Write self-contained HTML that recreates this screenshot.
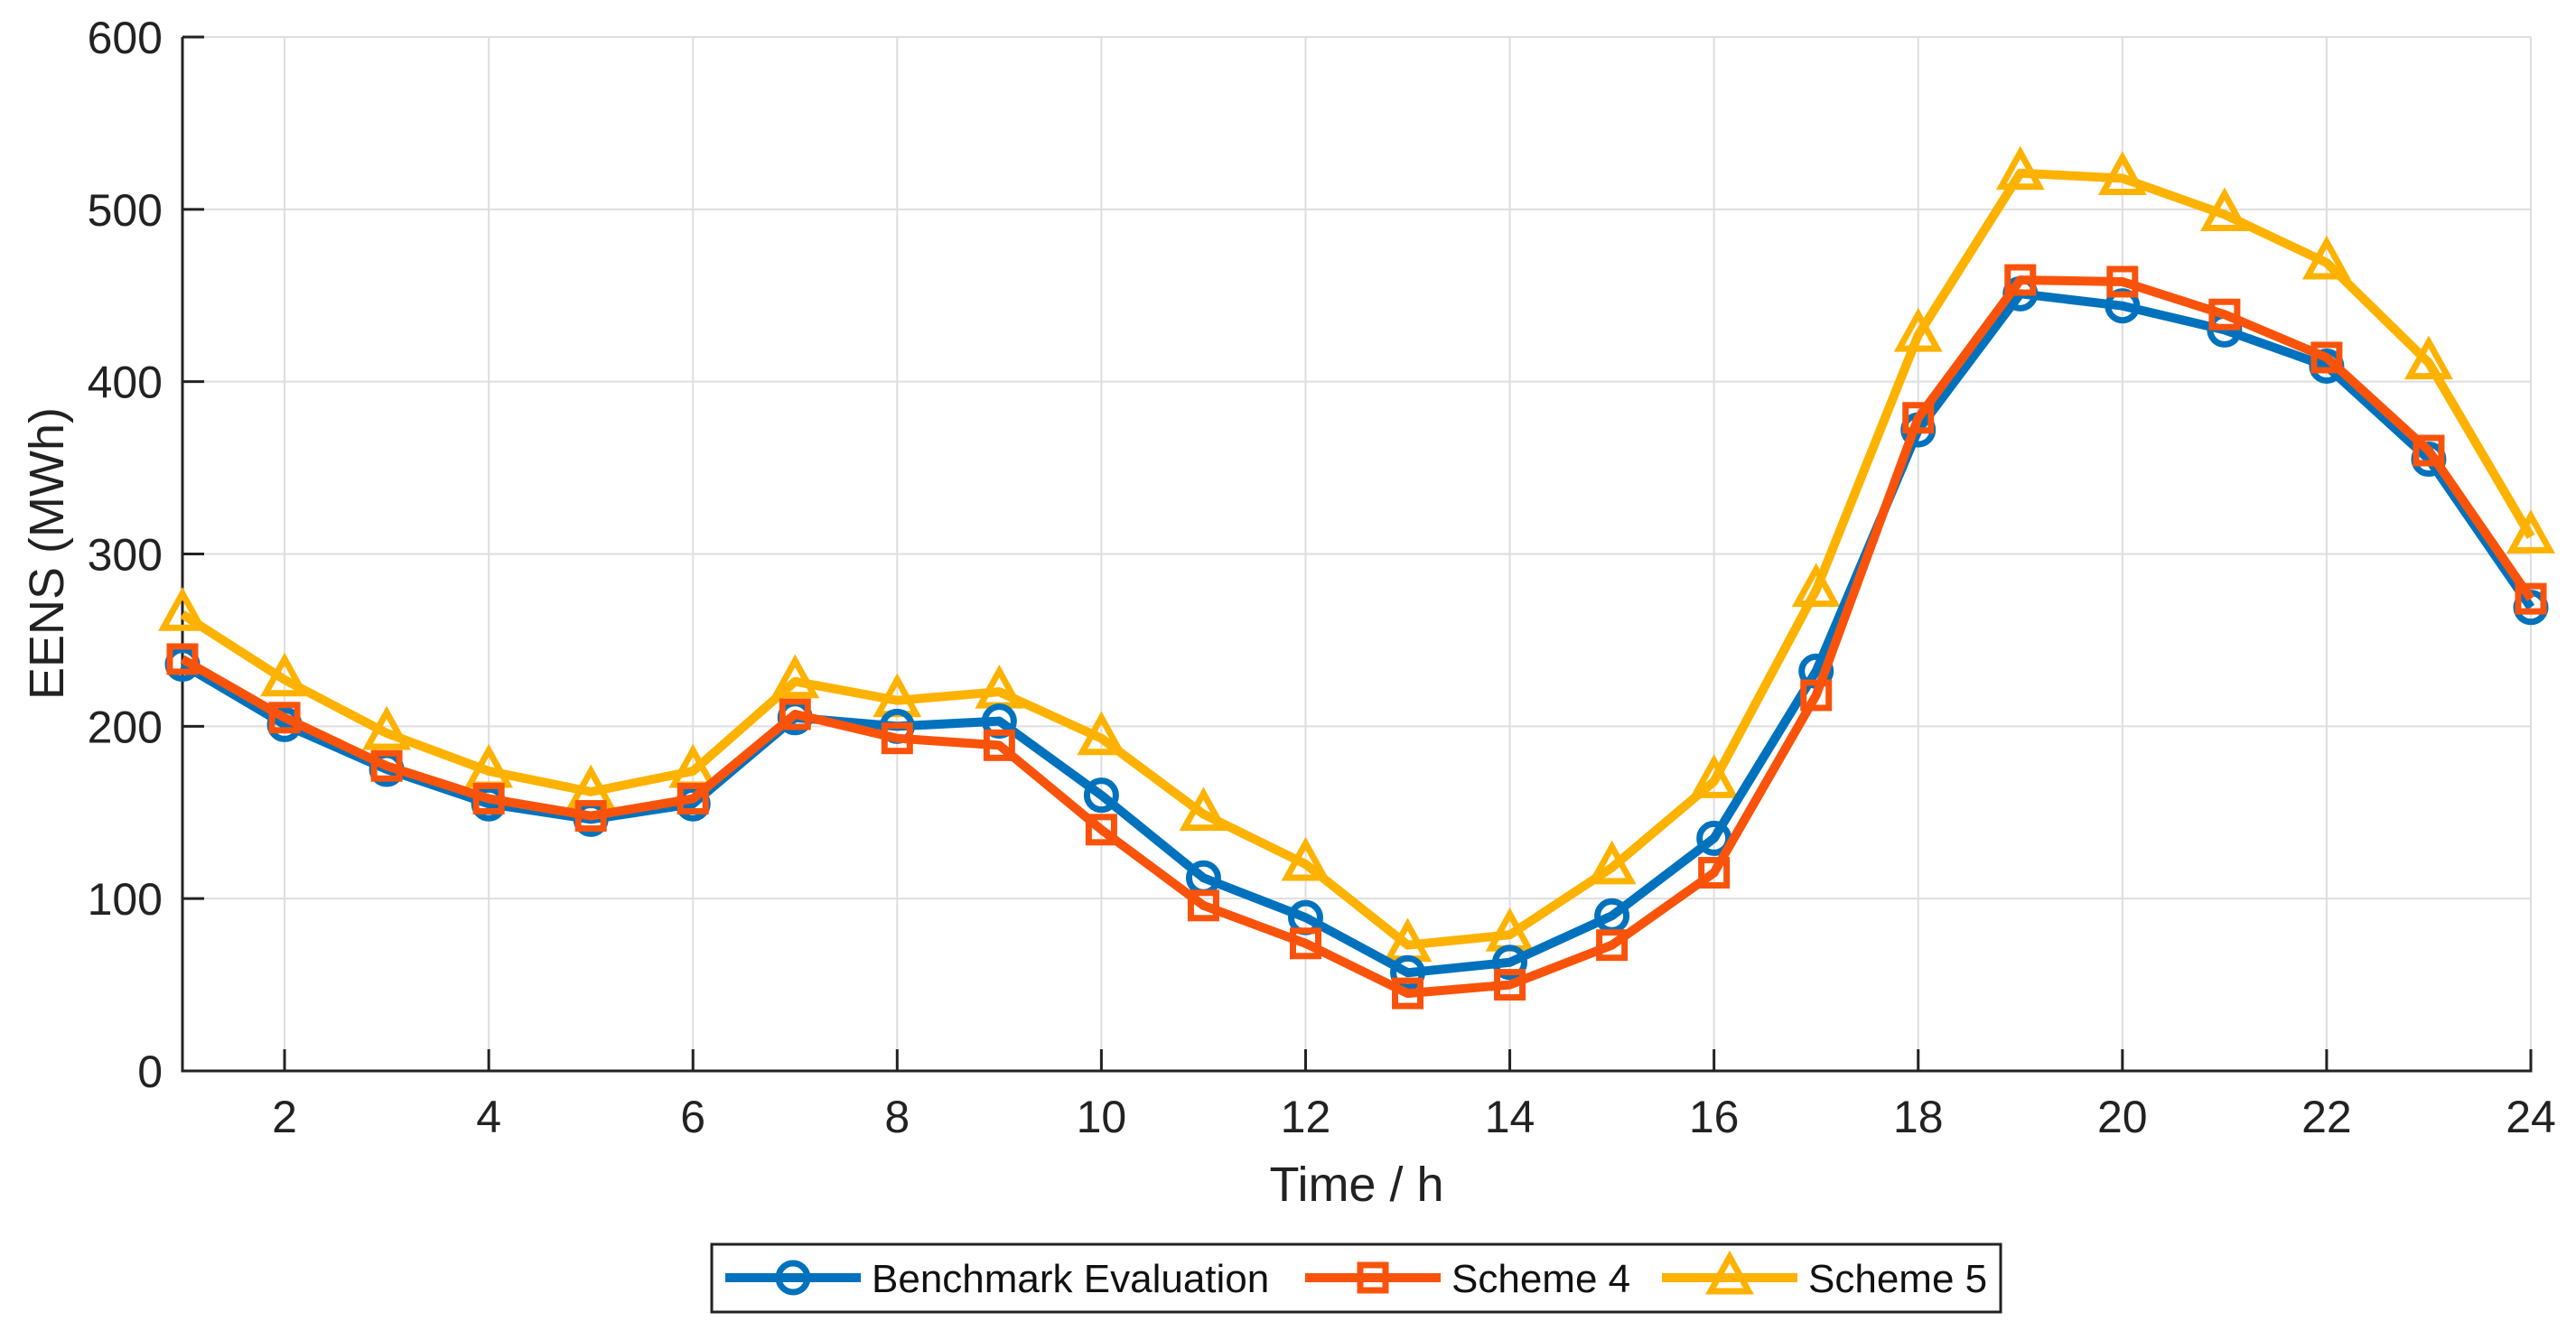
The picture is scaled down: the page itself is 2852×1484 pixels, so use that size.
<!DOCTYPE html>
<html><head><meta charset="utf-8"><style>
html,body{margin:0;padding:0;background:#fff;}
svg{display:block;font-family:"Liberation Sans",Arial,sans-serif;}
</style></head><body>
<svg id="chart" width="2852" height="1484" xmlns="http://www.w3.org/2000/svg">
<g id="grid"></g>
<g id="axes"></g>
<g id="series"></g>
<text x="1502" y="1330" font-size="54" text-anchor="middle" fill="#222">Time / h</text>
<text transform="translate(70,613) rotate(-90)" font-size="54" text-anchor="middle" fill="#222">EENS (MWh)</text>
<g>
<rect x="788" y="1378" width="1427" height="75" fill="#fff" stroke="#222" stroke-width="3"/>
<g>
<line x1="803" y1="1415" x2="953" y2="1415" stroke="#0072BD" stroke-width="10"/>
<circle cx="878" cy="1415" r="16" fill="none" stroke="#0072BD" stroke-width="7"/>
<text x="965" y="1431" font-size="44" fill="#111">Benchmark Evaluation</text></g>
<g>
<line x1="1445" y1="1415" x2="1595" y2="1415" stroke="#F9530B" stroke-width="10"/>
<rect x="1506" y="1401" width="28" height="28" fill="none" stroke="#F9530B" stroke-width="7"/>
<text x="1607" y="1431" font-size="44" fill="#111">Scheme 4</text></g>
<g>
<line x1="1840" y1="1415" x2="1990" y2="1415" stroke="#FDB200" stroke-width="10"/>
<polygon points="1915,1392 1936,1430 1894,1430" fill="none" stroke="#FDB200" stroke-width="7"/>
<text x="2002" y="1431" font-size="44" fill="#111">Scheme 5</text></g>
</g>
</svg>
<script>
const hours=[1,2,3,4,5,6,7,8,9,10,11,12,13,14,15,16,17,18,19,20,21,22,23,24];
const benchmark=[236,201,175,155,146,155,205,200,203,160,112,89,57,63,90,135,232,372,451,444,430,409,355,269];
const scheme4=[239,205,177,158,148,158,207,193,189,140,96,74,45,50,73,115,218,379,459,458,439,414,360,274];
const scheme5=[265,227,196,174,162,174,226,215,220,193,149,120,73,79,118,168,279,427,521,518,497,469,411,310];
const xTicks=[2,4,6,8,10,12,14,16,18,20,22,24];
const yTicks=[0,100,200,300,400,500,600];
const L=202,R=2802,T=41,B=1186;
const X=v=>L+(v-1)/(24-1)*(R-L);
const Y=v=>B-v/600*(B-T);
const NS='http://www.w3.org/2000/svg';
function mk(tag,attrs,parent){const e=document.createElementNS(NS,tag);for(const k in attrs)e.setAttribute(k,attrs[k]);parent.appendChild(e);return e;}
const grid=document.getElementById('grid'),axes=document.getElementById('axes'),ser=document.getElementById('series');
xTicks.forEach(t=>{
 const g=mk('line',{x1:X(t),x2:X(t),y1:T,y2:B,stroke:'#dedede','stroke-width':2},grid);
 
 
 mk('line',{x1:X(t),x2:X(t),y1:B,y2:B-24,stroke:'#222','stroke-width':3},axes);
 const tx=mk('text',{x:X(t),y:B+68,'font-size':50,'text-anchor':'middle',fill:'#222'},axes);
 tx.textContent=t;
 
 
});
yTicks.forEach(t=>{
 const g=mk('line',{x1:L,x2:R,y1:Y(t),y2:Y(t),stroke:'#dedede','stroke-width':2},grid);
 
 
 mk('line',{x1:L,x2:L+24,y1:Y(t),y2:Y(t),stroke:'#222','stroke-width':3},axes);
 const tx=mk('text',{x:L-22,y:Y(t)+18,'font-size':50,'text-anchor':'end',fill:'#222'},axes);
 tx.textContent=t;
 
 
});
const ax=mk('polyline',{points:`${L},${T} ${L},${B} ${R},${B} ${R},${B-24}`,fill:'none',stroke:'#222','stroke-width':3},axes);


function draw(vals,color,marker,name){
 const g=mk('g',{},ser);
 
 
 mk('polyline',{points:vals.map((v,i)=>X(hours[i])+','+Y(v)).join(' '),fill:'none',stroke:color,'stroke-width':10,'stroke-linejoin':'round'},g);
 vals.forEach((v,i)=>{
  const cx=X(hours[i]),cy=Y(v);let m;
  if(marker==='o')m=mk('circle',{cx,cy,r:16,fill:'none',stroke:color,'stroke-width':7},g);
  else if(marker==='s')m=mk('rect',{x:cx-14,y:cy-14,width:28,height:28,fill:'none',stroke:color,'stroke-width':7},g);
  else m=mk('polygon',{points:`${cx},${cy-23} ${cx+21},${cy+15} ${cx-21},${cy+15}`,fill:'none',stroke:color,'stroke-width':7},g);
  
  
 });
}
draw(scheme5,'#FDB200','^','series-scheme-5');
draw(benchmark,'#0072BD','o','series-benchmark');
draw(scheme4,'#F9530B','s','series-scheme-4');
</script>
</body></html>
